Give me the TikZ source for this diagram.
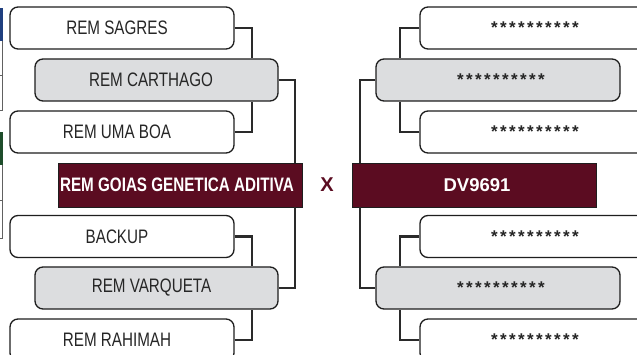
\documentclass[tikz,border=0pt]{standalone}
\usepackage{fontspec}
\setmainfont[FakeStretch=0.78]{Liberation Sans}
\newfontfamily\widefont{Liberation Sans}
\definecolor{maroon}{HTML}{5B0C21}
\definecolor{boxgray}{HTML}{DCDDDF}
\definecolor{edge}{HTML}{1E1E1E}
\definecolor{conncol}{HTML}{2A2A2A}
\definecolor{txt}{HTML}{262626}
\definecolor{edgeblue}{HTML}{1F3F7F}
\definecolor{edgegreen}{HTML}{1E4D2B}
\newcommand\onestar{\makebox[9pt]{*}}
\newcommand\starrow{{\widefont\bfseries\fontsize{17}{18}\selectfont\onestar\onestar\onestar\onestar\onestar\onestar\onestar\onestar\onestar\onestar}}
\tikzset{
  basebox/.style={draw=edge, line width=1.3pt, rounded corners=8pt, minimum height=42pt,
    inner sep=0pt, text=txt, font=\fontsize{19.5}{21}\selectfont},
  whitebox/.style={basebox, fill=white, minimum width=224pt},
  graybox/.style={basebox, fill=boxgray, minimum width=243pt},
  rwhitebox/.style={basebox, fill=white, minimum width=230pt},
  winner/.style={draw=edge, line width=0.8pt, fill=maroon, minimum width=244pt, minimum height=44pt,
    inner sep=0pt, text=white, font=\fontsize{19.5}{21}\selectfont\bfseries},
  conn/.style={draw=conncol, line width=2.4pt},
}
\begin{document}
\begin{tikzpicture}[x=1pt,y=-1pt]
\clip (0,0) rectangle (637,355);
\fill[white] (0,0) rectangle (637,355);
% left edge remnants
\fill[edgeblue] (0,8) rectangle (2.5,41);
\fill[edgegreen] (0,132) rectangle (2.5,165);
\draw[edge!70, line width=0.8pt] (2.5,41) -- (2.5,110) -- (0,110);
\draw[edge!70, line width=0.6pt] (0,75) -- (2.5,75);
\draw[edge!70, line width=0.8pt] (2.5,165) -- (2.5,238) -- (0,238);
\draw[edge!70, line width=0.6pt] (0,200) -- (2.5,200);

% junction x positions
\coordinate (jL) at (252,0);
\coordinate (jL2) at (295,0);
\coordinate (jR) at (400,0);
\coordinate (jR2) at (360,0);

% left bracket
\node[whitebox] (sagres) at (122,28) {REM SAGRES\hspace*{10pt}};
\node[graybox] (carthago) at (156.5,80) {REM CARTHAGO\hspace*{11pt}};
\node[whitebox] (umaboa) at (122,132) {REM UMA BOA\hspace*{10pt}};
\node[winner] (goias) at (180,185) {REM GOIAS GENETICA ADITIVA\hspace*{6pt}};
\node[whitebox] (backup) at (122,236.5) {BACKUP\hspace*{10pt}};
\node[graybox] (varqueta) at (156.5,288) {REM VARQUETA\hspace*{10pt}};
\node[whitebox] (rahimah) at (122,340) {REM RAHIMAH\hspace*{10pt}};

% right bracket
\node[rwhitebox] (r1) at (535,28) {\starrow};
\node[graybox, minimum width=244pt] (rg1) at (498,80) {\hspace*{6pt}\starrow};
\node[rwhitebox] (r3) at (535,132) {\starrow};
\node[winner] (dv) at (474,185) {\hspace*{6pt}\widefont\bfseries\fontsize{18.5}{20}\selectfont DV9691};
\node[rwhitebox] (r4) at (535,236.5) {\starrow};
\node[graybox, minimum width=244pt] (rg2) at (498,288) {\hspace*{6pt}\starrow};
\node[rwhitebox] (r6) at (535,340) {\starrow};

% versus mark
\node[text=maroon, font=\fontsize{20}{22}\selectfont\widefont\bfseries, inner sep=0pt] (vs) at (327,185) {X};

% connectors left
\draw[conn] (sagres.east) -| (jL |- carthago.north);
\draw[conn] (umaboa.east) -| (jL |- carthago.south);
\draw[conn] (carthago.east) -| (jL2 |- goias.north);
\draw[conn] (backup.east) -| (jL |- varqueta.north);
\draw[conn] (rahimah.east) -| (jL |- varqueta.south);
\draw[conn] (varqueta.east) -| (jL2 |- goias.south);

% connectors right
\draw[conn] (r1.west) -| (jR |- rg1.north);
\draw[conn] (r3.west) -| (jR |- rg1.south);
\draw[conn] (rg1.west) -| (jR2 |- dv.north);
\draw[conn] (r4.west) -| (jR |- rg2.north);
\draw[conn] (r6.west) -| (jR |- rg2.south);
\draw[conn] (rg2.west) -| (jR2 |- dv.south);
\end{tikzpicture}
\end{document}
